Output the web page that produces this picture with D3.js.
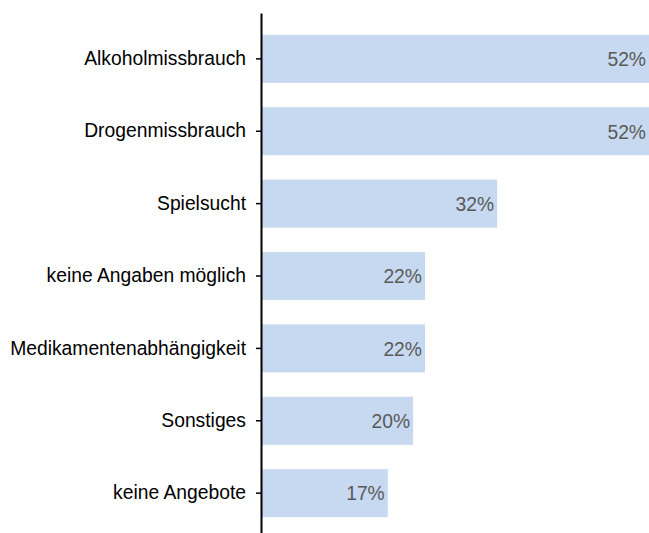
<!DOCTYPE html>
<meta charset="utf-8">
<script src="https://d3js.org/d3.v7.min.js"></script>
<style>
   body {
      background-color: white;
      margin: 0;
      padding: 0;
   }
   text {
      font-family: "Liberation Sans", Arial, sans-serif;
   }
</style>
<body>
<svg id="chart" width="649" height="533"></svg>
<script>
   var categories = ["Alkoholmissbrauch", "Drogenmissbrauch", "Spielsucht", "keine Angaben möglich",
      "Medikamentenabhängigkeit", "Sonstiges", "keine Angebote"]
   var values = [52, 52, 31.6, 21.9, 21.9, 20.3, 16.9]
   var valueLabels = ["52%", "52%", "32%", "22%", "22%", "20%", "17%"]

   var data = categories.map(function (c, i) { return { cat: c, v: values[i], lab: valueLabels[i] } })

   var svg = d3.select("#chart"),
      width = +svg.attr("width"),
      height = +svg.attr("height");

   var axisX = 261

   var x = d3.scaleLinear()
      .domain([0, 52])
      .range([axisX + 1, 649])

   var y = d3.scaleBand()
      .domain(categories)
      .range([13, 533])
      .paddingInner(0.336)
      .paddingOuter(0.26)
      .align(0.58)

   // bars
   svg.append("g")
      .selectAll("rect")
      .data(data)
      .enter()
      .append("rect")
      .attr("x", x(0))
      .attr("y", function (d) { return y(d.cat) })
      .attr("width", function (d) { return x(d.v) - x(0) })
      .attr("height", y.bandwidth())
      .attr("fill", "#c6d9f0")

   // value labels inside bar ends
   svg.append("g")
      .selectAll("text")
      .data(data)
      .enter()
      .append("text")
      .attr("x", function (d) { return x(d.v) - 3 })
      .attr("y", function (d) { return y(d.cat) + y.bandwidth() / 2 })
      .attr("dy", "0.38em")
      .attr("text-anchor", "end")
      .style("font-size", "19.3px")
      .style("fill", "#595959")
      .text(function (d) { return d.lab })

   // category axis
   var yAxis = d3.axisLeft(y)
      .tickSize(5)
      .tickPadding(10)
      .tickSizeOuter(0)

   var gy = svg.append("g")
      .attr("transform", "translate(" + axisX + ",0)")
      .call(yAxis)

   gy.select(".domain")
      .attr("stroke", "#000")
      .attr("stroke-width", 2)
   gy.selectAll(".tick line")
      .attr("stroke", "#000")
      .attr("stroke-width", 1.5)
   gy.selectAll(".tick text")
      .style("font-size", "19.3px")
      .style("font-family", "'Liberation Sans', Arial, sans-serif")
      .attr("fill", "#000")
</script>
</body>
